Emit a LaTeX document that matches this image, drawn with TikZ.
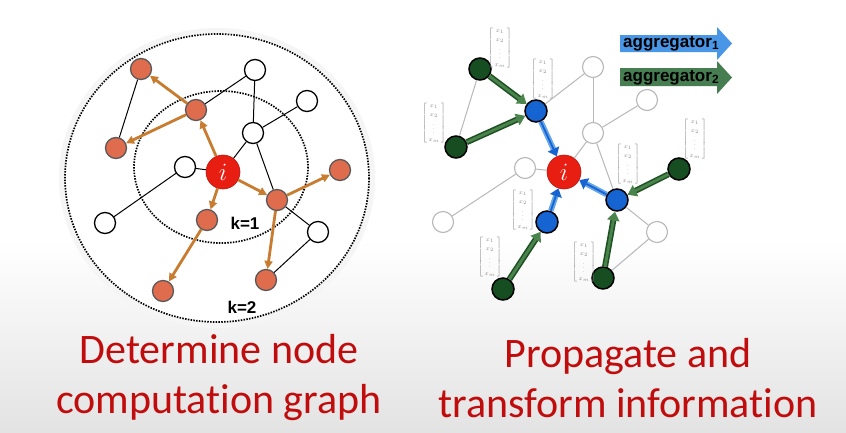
\documentclass[tikz,border=0pt]{standalone}
\usepackage{fontspec}
\usepackage{amsmath}
\setsansfont{Liberation Sans}
\newfontfamily\calib{Carlito}[Ligatures={NoCommon,NoRequired,NoContextual}]
\usetikzlibrary{arrows.meta}
\definecolor{onodec}{RGB}{224,108,78}
\definecolor{oedgec}{RGB}{200,124,48}
\definecolor{iredc}{RGB}{232,30,18}
\definecolor{dgreenc}{RGB}{22,78,34}
\definecolor{gedgec}{RGB}{74,132,76}
\definecolor{gedgedarkc}{RGB}{30,80,35}
\definecolor{bnodec}{RGB}{22,100,210}
\definecolor{bedgec}{RGB}{100,165,235}
\definecolor{aggbluec}{RGB}{74,150,230}
\definecolor{agggreenc}{RGB}{70,126,82}
\definecolor{titleredc}{RGB}{192,12,12}
\newcommand{\xvec}{{\color{black!45}\fontsize{6.5}{8.2}\selectfont\setlength{\arraycolsep}{1.5pt}$\left[\begin{array}{c}x_1\\x_2\\\vdots\\x_m\end{array}\right]$}}
\tikzset{
  wnode/.style={circle,draw=black,line width=1.3pt,fill=white,minimum size=21pt,inner sep=0pt},
  onode/.style={circle,draw=black!65,line width=1.3pt,fill=onodec,minimum size=21pt,inner sep=0pt},
  inode/.style={circle,fill=iredc,draw=iredc!80!black,line width=0.6pt,minimum size=34pt,inner sep=0pt,text=white,font=\fontsize{30}{30}\selectfont},
  gnode/.style={circle,draw=black!28,line width=1.1pt,fill=white,minimum size=21pt,inner sep=0pt},
  dgnode/.style={circle,draw=black,line width=1.5pt,fill=dgreenc,minimum size=22pt,inner sep=0pt},
  bnode/.style={circle,draw=black,line width=1.5pt,fill=bnodec,minimum size=22pt,inner sep=0pt},
  plain/.style={draw=black,line width=1pt},
  light/.style={draw=black!28,line width=1pt},
  oarr/.style={draw=oedgec,line width=2.8pt,-{Triangle[length=8pt,width=8pt]}},
  barr/.style={draw=bedgec,line width=5.5pt,-{Triangle[length=8pt,width=12pt,color=bnodec]},
    postaction={draw=bnodec,line width=1.8pt,shorten >=8pt,-}},
  garr/.style={draw=gedgedarkc,line width=6pt,-{Triangle[length=9pt,width=12pt,color=gedgec]},
    postaction={draw=gedgec,line width=2.8pt,shorten >=8pt,-}},
  ring/.style={draw=black,line width=1.7pt,dash pattern=on 1.5pt off 1.3pt},
  klabel/.style={font=\sffamily\bfseries\fontsize{17}{17}\selectfont},
  title/.style={font=\calib\fontsize{42}{50}\selectfont,text=titleredc,align=center},
  aggtext/.style={font=\sffamily\bfseries\fontsize{17}{17}\selectfont,anchor=west,inner sep=0pt},
}
\begin{document}
\begin{tikzpicture}[x=1pt,y=-1pt]
\useasboundingbox (0,0) rectangle (846,432);
\fill[white] (0,0) rectangle (846,432);
\shade[top color=white,bottom color=black!11] (0,240) rectangle (846,432);
% ---------------- left graph ----------------
\draw[black!4,line width=6pt] (217,178) ellipse [x radius=155,y radius=147];
\fill[white] (217,178) ellipse [x radius=152,y radius=144];
\draw[ring] (217,178) ellipse [x radius=152,y radius=144];
\draw[ring] (221,167) ellipse [x radius=87,y radius=76];
\node[onode] (A) at (141,69) {};
\node[onode] (B) at (116,148) {};
\node[onode] (C) at (196,110) {};
\node[wnode] (D) at (255,70) {};
\node[wnode] (E) at (307,101) {};
\node[wnode] (F) at (253,133) {};
\node[wnode] (G) at (185,167) {};
\node[inode] (I) at (223,172) {$i$};
\node[onode] (H) at (340,170) {};
\node[onode] (J) at (277,200) {};
\node[onode] (K) at (207,220) {};
\node[wnode] (L) at (105,223) {};
\node[wnode] (M) at (318,232) {};
\node[onode] (N) at (266,280) {};
\node[onode] (O) at (163,291) {};
\draw[plain] (A) -- (B);
\draw[plain] (C) -- (D);
\draw[plain] (D) -- (F);
\draw[plain] (F) -- (E);
\draw[plain] (F) -- (I);
\draw[plain] (G) -- (I);
\draw[plain] (G) -- (L);
\draw[plain] (F) -- (J);
\draw[plain] (J) -- (M);
\draw[plain] (M) -- (N);
\draw[oarr] (C) -- (A);
\draw[oarr] (C) -- (B);
\draw[oarr] (I) -- (C);
\draw[oarr] (I) -- (J);
\draw[oarr] (J) -- (H);
\draw[oarr] (J) -- (N);
\draw[oarr] (I) -- (K);
\draw[oarr] (K) -- (O);
\node[klabel] (k1) at (245,223) {k=1};
\node[klabel] (k2) at (242,307) {k=2};
% ---------------- right graph ----------------
\node[dgnode] (g1) at (480,69) {};
\node[dgnode] (g2) at (456,147) {};
\node[bnode] (b1) at (536,111) {};
\node[gnode] (wt) at (593,67) {};
\node[gnode] (wr) at (647,100) {};
\node[gnode] (wm) at (593,133) {};
\node[gnode] (wl) at (525,168) {};
\node[inode] (i2) at (564,172) {$i$};
\node[dgnode] (g3) at (679,169) {};
\node[bnode] (b2) at (617,200) {};
\node[bnode] (b3) at (547,222) {};
\node[gnode] (wbl) at (443,222) {};
\node[gnode] (wrl) at (657,232) {};
\node[dgnode] (g4) at (603,278) {};
\node[dgnode] (g5) at (503,289) {};
\draw[light] (g1) -- (g2);
\draw[light] (b1) -- (wt);
\draw[light] (wt) -- (wm);
\draw[light] (wm) -- (wr);
\draw[light] (wm) -- (i2);
\draw[light] (wl) -- (i2);
\draw[light] (wl) -- (wbl);
\draw[light] (wm) -- (b2);
\draw[light] (b2) -- (wrl);
\draw[light] (wrl) -- (g4);
\draw[garr] (g1) -- (b1);
\draw[garr] (g2) -- (b1);
\draw[garr] (g3) -- (b2);
\draw[garr] (g4) -- (b2);
\draw[garr] (g5) -- (b3);
\draw[barr] (b1) -- (i2);
\draw[barr] (b3) -- (i2);
\draw[barr] (b2) -- (i2);
\node[inner sep=0pt] (v1) at (500,48) {\xvec};
\node[inner sep=0pt] (v2) at (543,79) {\xvec};
\node[inner sep=0pt] (v3) at (434,123) {\xvec};
\node[inner sep=0pt] (v4) at (695,139) {\xvec};
\node[inner sep=0pt] (v5) at (628,164) {\xvec};
\node[inner sep=0pt] (v6) at (523,210) {\xvec};
\node[inner sep=0pt] (v7) at (490,257) {\xvec};
\node[inner sep=0pt] (v8) at (584,262) {\xvec};
% aggregator arrows
\fill[aggbluec] (620,35) -- (717,35) -- (717,27) -- (732,43.5) -- (717,60) -- (717,52) -- (620,52) -- cycle;
\fill[agggreenc] (620,68) -- (717,68) -- (717,61) -- (732,77.5) -- (717,94) -- (717,86) -- (620,86) -- cycle;
\node[aggtext] (agg1) at (623,43.5) {aggregator\textsubscript{1}};
\node[aggtext] (agg2) at (623,77.5) {aggregator\textsubscript{2}};
% titles
\node[title] (t1) at (219,378) {Determine node\\computation graph};
\node[title] (t2) at (628,378) {Propagate and\\transform information};
\end{tikzpicture}
\end{document}
